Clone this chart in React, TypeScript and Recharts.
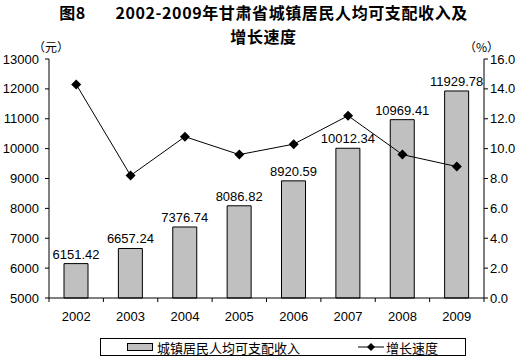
import { ComposedChart, Bar, Line, XAxis, YAxis, LabelList } from 'recharts';

const years = ['2002', '2003', '2004', '2005', '2006', '2007', '2008', '2009'];
const income = [6151.42, 6657.24, 7376.74, 8086.82, 8920.59, 10012.34, 10969.41, 11929.78];
const growth = [14.3, 8.2, 10.8, 9.6, 10.3, 12.2, 9.6, 8.8];
const incomeTicks = [5000, 6000, 7000, 8000, 9000, 10000, 11000, 12000, 13000];
const growthTicks = [0, 2, 4, 6, 8, 10, 12, 14, 16];
const titleLines = ['图8       2002-2009年甘肃省城镇居民人均可支配收入及', '增长速度'];

const data = years.map((year, i) => ({ year, income: income[i], growth: growth[i] }));

const W = 527;
const H = 361;
const margin = { top: 59, right: 0, bottom: 0, left: 0 };
const leftAxisW = 49;
const rightAxisW = 43;
const xAxisH = 63;
const plotW = W - leftAxisW - rightAxisW;
const font = 'Arial, "Liberation Sans", "Noto Sans CJK SC", sans-serif';
const cjk = '"Noto Sans CJK SC", sans-serif';

// Diamond marker for the growth line
const Diamond = (props: any) => {
  const { cx, cy } = props;
  if (cx == null || cy == null) return null;
  const r = 5;
  return <path d={`M${cx},${cy - r}L${cx + r},${cy}L${cx},${cy + r}L${cx - r},${cy}Z`} fill="#000" />;
};

// Category label plus the small tick between categories (Excel style)
const YearTick = (props: any) => {
  const { x, y, payload, index } = props;
  const half = plotW / years.length / 2;
  return (
    <g>
      <line x1={x - half} y1={y - 8} x2={x - half} y2={y - 4} stroke="#000" />
      {index === years.length - 1 && <line x1={x + half} y1={y - 8} x2={x + half} y2={y - 4} stroke="#000" />}
      <text x={x} y={y + 15} textAnchor="middle" fontSize={13} fontFamily={font} fill="#000">
        {payload.value}
      </text>
    </g>
  );
};

const unitStyle = { position: 'absolute' as const, top: 41, fontFamily: cjk, fontSize: 12, lineHeight: '12px' };

const App = () => {
  return (
    <div style={{ position: 'absolute', left: 0, top: 0, width: W, height: H, background: '#fff' }}>
      {titleLines.map((t, i) => (
        <div
          key={i}
          style={{
            position: 'absolute', top: 1 + i * 24, left: 0, right: 0, margin: '0 auto', width: 'fit-content',
            fontFamily: cjk, fontWeight: 'bold', fontSize: 16, lineHeight: '23px', letterSpacing: 0.6, whiteSpace: 'pre',
          }}
        >
          {t}
        </div>
      ))}
      <div style={{ ...unitStyle, left: 33 }}>（元）</div>
      <div style={{ ...unitStyle, left: 464 }}>（%）</div>
      <ComposedChart width={W} height={H} data={data} margin={margin}>
        <XAxis
          dataKey="year"
          height={xAxisH}
          stroke="#000"
          tickLine={false}
          tick={<YearTick />}
          interval={0}
        />
        <YAxis
          yAxisId="left"
          width={leftAxisW}
          domain={[5000, 13000]}
          ticks={incomeTicks}
          stroke="#000"
          tickSize={4}
          tickMargin={6}
          interval={0}
          tick={{ fontSize: 13, fontFamily: font, fill: '#000' }}
        />
        <YAxis
          yAxisId="right"
          orientation="right"
          width={rightAxisW}
          domain={[0, 16]}
          ticks={growthTicks}
          stroke="#000"
          tickSize={4}
          tickMargin={2}
          interval={0}
          tickFormatter={(v: number) => v.toFixed(1)}
          tick={{ fontSize: 13, fontFamily: font, fill: '#000', textAnchor: 'start' }}
        />
        <Bar yAxisId="left" dataKey="income" fill="#c0c0c0" stroke="#000" strokeWidth={1} barSize={24} isAnimationActive={false}>
          <LabelList dataKey="income" position="top" offset={5} fontSize={13} fontFamily={font} fill="#000" formatter={(v: number) => v.toFixed(2)} />
        </Bar>
        <Line yAxisId="right" dataKey="growth" stroke="#000" strokeWidth={1} dot={<Diamond />} activeDot={false} isAnimationActive={false} />
      </ComposedChart>
      <div
        style={{
          position: 'absolute', left: 100, top: 338, width: 366, height: 18, border: '1px solid #000', boxSizing: 'border-box',
          fontFamily: cjk, fontSize: 13, display: 'flex', alignItems: 'center',
        }}
      >
        <span style={{ display: 'inline-block', marginLeft: 26, width: 24, height: 6, background: '#c0c0c0', border: '1px solid #000' }} />
        <span style={{ marginLeft: 4 }}>城镇居民人均可支配收入</span>
        <svg width={26} height={12} style={{ marginLeft: 58 }}>
          <line x1={0} y1={6} x2={26} y2={6} stroke="#000" />
          <path d="M13,2L17,6L13,10L9,6Z" fill="#000" />
        </svg>
        <span style={{ marginLeft: 2 }}>增长速度</span>
      </div>
    </div>
  );
};

export default App;
